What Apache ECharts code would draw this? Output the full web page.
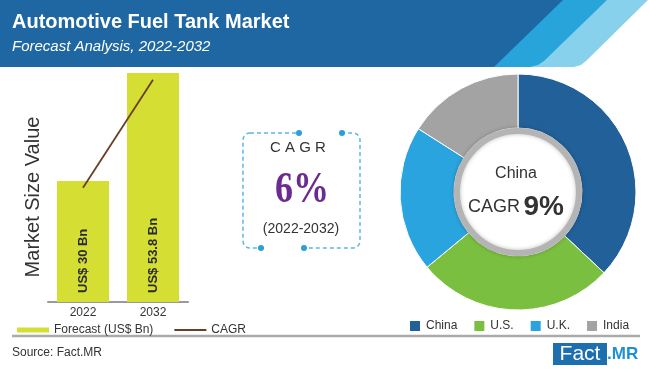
<!DOCTYPE html>
<html>
<head>
<meta charset="utf-8">
<script src="https://cdn.jsdelivr.net/npm/echarts@6/dist/echarts.min.js"></script>
<style>
html,body{margin:0;padding:0;background:#fff;}
#chart{width:650px;height:370px;}
</style>
</head>
<body>
<div id="chart"></div>
<script>
// ---- data ----
var years = ['2022', '2032'];
var marketValues = [30, 53.8];
var barLabels = ['US$ 30 Bn', 'US$ 53.8 Bn'];
var cagrLine = [28.5, 52.3];
var regions = ['China', 'U.S.', 'U.K.', 'India'];
var regionShares = [37, 27, 20, 16];
var regionColors = ['#22609a', '#7bbf40', '#2aa4de', '#a3a3a3'];

var titleText = 'Automotive Fuel Tank Market';
var subtitleText = 'Forecast Analysis, 2022-2032';
var cagrValue = '6%';
var cagrPeriod = '(2022-2032)';
var centerRegion = 'China';
var centerCagr = '9%';

var chart = echarts.init(document.getElementById('chart'), null, {renderer: 'canvas'});

var SANS = '"Liberation Sans", Arial, sans-serif';
var cx = 518, cy = 192;

var option = {
  backgroundColor: '#ffffff',
  animation: false,
  grid: {left: 48, width: 140, top: 73, bottom: 68, containLabel: false},
  xAxis: {
    type: 'category',
    data: years,
    axisLine: {lineStyle: {color: '#9a9a9a', width: 2}},
    axisTick: {show: false},
    axisLabel: {color: '#333', fontSize: 12, margin: 5, fontFamily: SANS}
  },
  yAxis: {type: 'value', min: 3.3, max: 53.8, show: false},
  legend: [
    {
      left: 12, top: 319,
      itemWidth: 32, itemHeight: 5, itemGap: 20,
      textStyle: {color: '#333', fontSize: 12, fontFamily: SANS},
      data: [
        {name: 'Forecast (US$ Bn)', icon: 'rect'},
        {name: 'CAGR', itemStyle: {opacity: 0}}
      ]
    },
    {
      left: 403, top: 314,
      itemWidth: 12, itemHeight: 12, itemGap: 15,
      icon: 'rect',
      textStyle: {color: '#333', fontSize: 12, fontFamily: SANS},
      data: regions
    }
  ],
  series: [
    {
      name: 'Forecast (US$ Bn)',
      type: 'bar',
      data: marketValues,
      barWidth: 52,
      itemStyle: {color: '#d5df33'},
      label: {
        show: true,
        position: 'insideBottom',
        rotate: 90,
        align: 'left',
        verticalAlign: 'middle',
        distance: 9,
        color: '#2b2b2b',
        fontWeight: 'bold',
        fontSize: 13,
        fontFamily: SANS,
        formatter: function (p) { return barLabels[p.dataIndex]; }
      }
    },
    {
      name: 'CAGR',
      type: 'line',
      data: cagrLine,
      symbol: 'none',
      z: 5,
      lineStyle: {color: '#6b3e23', width: 1.8},
      itemStyle: {color: '#6b3e23'}
    },
    {
      type: 'pie',
      center: [cx, cy],
      radius: [64, 118],
      startAngle: 90,
      clockwise: true,
      label: {show: false},
      labelLine: {show: false},
      emphasis: {disabled: true},
      itemStyle: {borderColor: '#ffffff', borderWidth: 1},
      data: regions.map(function (r, i) {
        return {name: r, value: regionShares[i], itemStyle: {color: regionColors[i]}};
      })
    }
  ],
  graphic: [
    // header band
    {type: 'polygon', z: 0, shape: {points: [[0,0],[648,0],[586,61],[581,65],[574,67],[0,67]]}, style: {fill: '#88d1ec'}},
    {type: 'polygon', z: 1, shape: {points: [[0,0],[607,0],[544,61],[538,65],[530,67],[0,67]]}, style: {fill: '#27a5da'}},
    {type: 'polygon', z: 2, shape: {points: [[0,0],[563,0],[494,67],[0,67]]}, style: {fill: '#1e67a3'}},
    {type: 'text', z: 3, x: 12, y: 22, style: {text: titleText, fill: '#fff', font: 'bold 20px ' + SANS, textVerticalAlign: 'middle'}},
    {type: 'text', z: 3, x: 12, y: 47, style: {text: subtitleText, fill: '#fff', font: 'italic 15px ' + SANS, textVerticalAlign: 'middle'}},

    // y axis title
    {type: 'text', x: 33, y: 197, rotation: Math.PI / 2,
      style: {text: 'Market Size Value', fill: '#333', font: '20px ' + SANS, textAlign: 'center', textVerticalAlign: 'middle'}},

    // CAGR box
    {type: 'rect', shape: {x: 243, y: 133, width: 117, height: 115, r: 7},
      style: {fill: 'none', stroke: '#5bb8e2', lineWidth: 1.5, lineDash: [4, 3]}},
    {type: 'line', shape: {x1: 302, y1: 133, x2: 339, y2: 133}, style: {stroke: '#fff', lineWidth: 4}},
    {type: 'line', shape: {x1: 264, y1: 248, x2: 301, y2: 248}, style: {stroke: '#fff', lineWidth: 4}},
    {type: 'circle', shape: {cx: 299, cy: 133, r: 3}, style: {fill: '#2a9fd8'}},
    {type: 'circle', shape: {cx: 342, cy: 133, r: 3}, style: {fill: '#2a9fd8'}},
    {type: 'circle', shape: {cx: 261, cy: 248, r: 3}, style: {fill: '#2a9fd8'}},
    {type: 'circle', shape: {cx: 304, cy: 248, r: 3}, style: {fill: '#2a9fd8'}},
    {type: 'text', x: 298, y: 148, style: {text: 'C A G R', fill: '#333', font: '15px ' + SANS, textAlign: 'center', textVerticalAlign: 'middle'}},
    {type: 'text', x: 302, y: 191, scaleX: 0.82, originX: 0, originY: 0,
      style: {text: cagrValue, fill: '#6b2c91', font: 'bold 44px "Liberation Serif", serif', textAlign: 'center', textVerticalAlign: 'middle'}},
    {type: 'text', x: 301, y: 229, style: {text: cagrPeriod, fill: '#333', font: '14px ' + SANS, textAlign: 'center', textVerticalAlign: 'middle'}},

    // pie center
    {type: 'circle', z: 10, shape: {cx: cx, cy: cy, r: 61},
      style: {fill: '#ffffff', stroke: '#b4b4b4', lineWidth: 6, shadowBlur: 4, shadowColor: 'rgba(0,0,0,0.25)'}},
    {type: 'text', z: 11, x: 516, y: 174, style: {text: centerRegion, fill: '#333', font: '16px ' + SANS, textAlign: 'center', textVerticalAlign: 'middle'}},
    {type: 'text', z: 11, x: 516, y: 207, style: {
      text: '{a|CAGR} {b|' + centerCagr + '}', textAlign: 'center', textVerticalAlign: 'middle',
      rich: {
        a: {fontSize: 18, fontFamily: SANS, fill: '#333', color: '#333'},
        b: {fontSize: 28, fontWeight: 'bold', fontFamily: SANS, fill: '#333', color: '#333'}
      }}},

    // footer
    {type: 'line', shape: {x1: 12, y1: 336, x2: 640, y2: 336}, style: {stroke: '#aaaaaa', lineWidth: 2.5}},
    {type: 'text', x: 12, y: 353, style: {text: 'Source: Fact.MR', fill: '#333', font: '12px ' + SANS, textVerticalAlign: 'middle'}},
    {type: 'rect', shape: {x: 553, y: 343, width: 54, height: 22}, style: {fill: '#1d6fae'}},
    {type: 'text', x: 580, y: 354, style: {text: 'Fact', fill: '#fff', font: '21px ' + SANS, textAlign: 'center', textVerticalAlign: 'middle'}},
    {type: 'text', x: 607, y: 354, style: {text: '.MR', fill: '#1e90d6', font: 'bold 17px ' + SANS, textVerticalAlign: 'middle'}}
  ]
};
chart.setOption(option);
</script>
</body>
</html>
